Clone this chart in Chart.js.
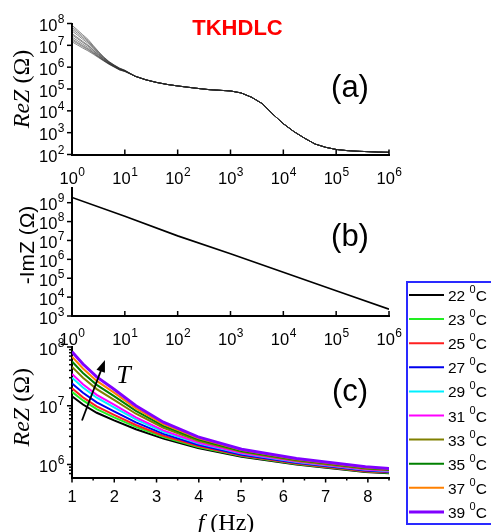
<!DOCTYPE html>
<html>
<head>
<meta charset="utf-8">
<script src="https://cdn.jsdelivr.net/npm/chart.js@4.4.0/dist/chart.umd.min.js"></script>
<style>
  html, body { margin: 0; padding: 0; background: #fff; }
  #wrap { position: relative; width: 491px; height: 532px; overflow: hidden; }
  #wrap canvas { position: absolute; left: 0; top: 0; }
</style>
</head>
<body>
<div id="wrap">
  <canvas id="chartA" width="491" height="532"></canvas>
  <canvas id="chartB" width="491" height="532"></canvas>
  <canvas id="chartC" width="491" height="532"></canvas>
</div>
<script>
// temperatures and their colours (legend order)
const temps = ['22', '23', '25', '27', '29', '31', '33', '35', '37', '39']
const tempColors = ['#000000', '#22ee22', '#ff2020', '#0000ee', '#00f0ff', '#ff00ff', '#808000', '#008000', '#ff8000', '#8000ff']

// low frequency part, where the curves split by temperature
const freqLow = [1, 1.259, 1.585, 1.995, 2.512, 3.162, 3.981, 5.012, 6.310, 7.943, 10]
const reZ_22C = [1.45e7, 1.05e7, 7.59e6, 5.62e6, 3.98e6, 2.75e6, 1.91e6, 1.35e6, 1.00e6, 7.41e5, 6.31e5]
const reZ_23C = [1.72e7, 1.23e7, 8.73e6, 6.35e6, 4.37e6, 2.94e6, 1.99e6, 1.39e6, 1.02e6, 7.57e5, 6.40e5]
const reZ_25C = [1.98e7, 1.39e7, 9.77e6, 7.00e6, 4.70e6, 3.09e6, 2.06e6, 1.42e6, 1.04e6, 7.69e5, 6.47e5]
const reZ_27C = [2.40e7, 1.66e7, 1.14e7, 8.02e6, 5.20e6, 3.32e6, 2.16e6, 1.47e6, 1.07e6, 7.87e5, 6.56e5]
const reZ_29C = [3.01e7, 2.04e7, 1.37e7, 9.40e6, 5.86e6, 3.61e6, 2.29e6, 1.53e6, 1.10e6, 8.09e5, 6.68e5]
const reZ_31C = [3.47e7, 2.32e7, 1.53e7, 1.04e7, 6.31e6, 3.80e6, 2.37e6, 1.57e6, 1.12e6, 8.22e5, 6.76e5]
const reZ_33C = [4.59e7, 2.99e7, 1.92e7, 1.26e7, 7.31e6, 4.22e6, 2.54e6, 1.64e6, 1.16e6, 8.49e5, 6.92e5]
const reZ_35C = [5.66e7, 3.61e7, 2.27e7, 1.46e7, 8.17e6, 4.55e6, 2.68e6, 1.70e6, 1.20e6, 8.71e5, 7.03e5]
const reZ_37C = [6.85e7, 4.31e7, 2.65e7, 1.67e7, 9.04e6, 4.89e6, 2.81e6, 1.76e6, 1.23e6, 8.91e5, 7.13e5]
const reZ_39C = [8.32e7, 5.13e7, 3.09e7, 1.91e7, 1.00e7, 5.25e6, 2.95e6, 1.82e6, 1.26e6, 9.12e5, 7.24e5]
const reZLow = [reZ_22C, reZ_23C, reZ_25C, reZ_27C, reZ_29C, reZ_31C, reZ_33C, reZ_35C, reZ_37C, reZ_39C]

// high frequency part, all temperatures on top of each other
const freqTail = [15.85, 25.12, 39.81, 63.10, 100, 158.5, 251.2, 398.1, 631.0, 1000, 1585, 2512, 3981, 6310,
    1e4, 1.585e4, 2.512e4, 3.981e4, 6.310e4, 1e5, 1.585e5, 2.512e5, 3.981e5, 6.310e5, 1e6]
const reZTail = [3.80e5, 2.63e5, 2.00e5, 1.62e5, 1.38e5, 1.20e5, 1.05e5, 9.33e4, 8.71e4, 8.13e4, 6.61e4, 4.17e4, 2.14e4, 7.08e3,
    2.57e3, 1.12e3, 562, 302, 214, 170, 151, 141, 135, 129, 126]

// -ImZ
const freqIm = [1, 10, 100, 1000, 1e4, 1e5, 1e6]
const negImZ = [1.9e9, 1.9e8, 1.75e7, 2.0e6, 2.1e5, 2.2e4, 2.3e3]

// ticks
const decadeTicksX = [1, 10, 100, 1e3, 1e4, 1e5, 1e6]
const decadeTicksA = [1e2, 1e3, 1e4, 1e5, 1e6, 1e7, 1e8]
const decadeTicksB = [1e3, 1e4, 1e5, 1e6, 1e7, 1e8, 1e9]
const decadeTicksC = [1e6, 1e7, 1e8]
const minorTicksC = [7e5, 8e5, 9e5, 2e6, 3e6, 4e6, 5e6, 6e6, 7e6, 8e6, 9e6, 2e7, 3e7, 4e7, 5e7, 6e7, 7e7, 8e7, 9e7]
const linTicksC = [1, 2, 3, 4, 5, 6, 7, 8]
const linMinorC = [1.5, 2.5, 3.5, 4.5, 5.5, 6.5, 7.5, 8.5]

const sans = '"Liberation Sans", Arial, sans-serif'
const serif = '"Liberation Serif", "Times New Roman", serif'

function toPoints(xs, ys) {
    return xs.map((x, i) => ({ x: x, y: ys[i] }))
}

// draws "10" with a raised exponent
function drawPow(ctx, exp, x, y, align) {
    ctx.font = '16.5px ' + sans
    const wb = ctx.measureText('10').width
    ctx.font = '12px ' + sans
    const we = ctx.measureText(String(exp)).width
    const x0 = align === 'right' ? x - wb - we : x - (wb + we) / 2
    ctx.textAlign = 'left'
    ctx.textBaseline = 'alphabetic'
    ctx.font = '16.5px ' + sans
    ctx.fillText('10', x0, y)
    ctx.font = '12px ' + sans
    ctx.fillText(String(exp), x0 + wb + 0.5, y - 8)
}

// rotated axis title made of pieces with their own fonts
function drawVertTitle(ctx, parts, cx, cy) {
    let total = 0
    parts.forEach(p => { ctx.font = p.font; p.w = ctx.measureText(p.text).width; total += p.w })
    ctx.save()
    ctx.translate(cx, cy)
    ctx.rotate(-Math.PI / 2)
    ctx.textAlign = 'left'
    ctx.textBaseline = 'alphabetic'
    let x = -total / 2
    parts.forEach(p => { ctx.font = p.font; ctx.fillText(p.text, x, 0); x += p.w })
    ctx.restore()
}

/**
 * Ticks, tick labels and the free texts of every panel.
 */
const decorPlugin = {
    id: 'decor',
    afterDraw(chart, args, o) {
        const ctx = chart.ctx
        const a = chart.chartArea
        const xs = chart.scales.x, ys = chart.scales.y
        ctx.save()
        ctx.strokeStyle = '#000'
        ctx.fillStyle = '#000'
        ctx.lineWidth = 1.5
        const seg = (x1, y1, x2, y2) => { ctx.beginPath(); ctx.moveTo(x1, y1); ctx.lineTo(x2, y2); ctx.stroke() }

        // x ticks (dir -1 = inside, 1 = outside)
        o.xMajor.forEach(v => { const p = xs.getPixelForValue(v); seg(p, a.bottom, p, a.bottom + o.xDir * 5) })
        ;(o.xMinor || []).forEach(v => { const p = xs.getPixelForValue(v); seg(p, a.bottom, p, a.bottom + o.xDir * 3) })
        o.yMajor.forEach(v => { const p = ys.getPixelForValue(v); seg(a.left - 5, p, a.left, p) })
        ;(o.yMinor || []).forEach(v => { const p = ys.getPixelForValue(v); seg(a.left - 3, p, a.left, p) })

        // tick labels
        o.xMajor.forEach(v => {
            const p = xs.getPixelForValue(v)
            if (o.xPow) {
                drawPow(ctx, Math.round(Math.log10(v)), p, a.bottom + 29, 'center')
            } else {
                ctx.font = '16.5px ' + sans
                ctx.textAlign = 'center'
                ctx.textBaseline = 'alphabetic'
                ctx.fillText(String(v), p, a.bottom + 24.5)
            }
        })
        o.yMajor.forEach(v => {
            drawPow(ctx, Math.round(Math.log10(v)), a.left - 8, ys.getPixelForValue(v) + 7.5, 'right')
        })

        if (o.yTitle) drawVertTitle(ctx, o.yTitle, o.yTitleX, (a.top + a.bottom) / 2 + o.yTitleDy)

        // panel letter
        ctx.font = '31px ' + sans
        ctx.textAlign = 'center'
        ctx.textBaseline = 'alphabetic'
        ctx.fillText(o.letter, a.right - 39, a.top + o.letterDy)

        if (o.extra) o.extra(chart, ctx, a, xs, ys)
        ctx.restore()
    }
}

function axisScales(xOpts, yOpts, yWidth) {
    const common = {
        ticks: { display: false },
        grid: { display: false },
        border: { display: true, color: '#000', width: 2 }
    }
    return {
        x: Object.assign({ position: 'bottom', afterFit: s => { s.height = 20 } }, common, xOpts),
        y: Object.assign({ position: 'left', afterFit: s => { s.width = yWidth } }, common, yOpts)
    }
}

function baseOptions(padding, scales, decor) {
    return {
        responsive: false,
        devicePixelRatio: 1,
        animation: false,
        events: [],
        layout: { autoPadding: false, padding: padding },
        scales: scales,
        plugins: { legend: { display: false }, tooltip: { enabled: false }, decor: decor }
    }
}

const reZTitle = [
    { text: 'ReZ', font: 'italic 24px ' + serif },
    { text: ' (Ω)', font: '24px ' + serif }
]

// ---------- panel (a) ----------
const datasetsA = reZLow.map((vals, i) => ({
    label: temps[i] + ' °C',
    data: toPoints(freqLow.concat(freqTail), vals.concat(reZTail)),
    borderColor: 'rgba(40,40,40,0.55)',
    borderWidth: 1,
    pointRadius: 0,
    fill: false
}))

new Chart(document.querySelector('#chartA'), {
    type: 'line',
    data: { datasets: datasetsA },
    options: baseOptions(
        { left: 0, right: 102, top: 23.5, bottom: 357.5 },
        axisScales({ type: 'logarithmic', min: 1, max: 1e6 }, { type: 'logarithmic', min: 1e2, max: 1e8 }, 72),
        {
            xMajor: decadeTicksX, xDir: -1, xPow: true,
            yMajor: decadeTicksA,
            yTitle: reZTitle, yTitleX: 28.5, yTitleDy: 0,
            letter: '(a)', letterDy: 73,
            extra: (chart, ctx) => {
                ctx.fillStyle = '#ff0000'
                ctx.font = 'bold 22px ' + sans
                ctx.textAlign = 'center'
                ctx.fillText('TKHDLC', 237.5, 35)
            }
        }
    ),
    plugins: [decorPlugin]
})

// ---------- panel (b) ----------
new Chart(document.querySelector('#chartB'), {
    type: 'line',
    data: {
        datasets: [{
            label: '-ImZ',
            data: toPoints(freqIm, negImZ),
            borderColor: '#000',
            borderWidth: 1.6,
            pointRadius: 0,
            fill: false
        }]
    },
    options: baseOptions(
        { left: 0, right: 102, top: 188, bottom: 196 },
        axisScales({ type: 'logarithmic', min: 1, max: 1e6 }, { type: 'logarithmic', min: 1e3, max: 6e9 }, 72),
        {
            xMajor: decadeTicksX, xDir: -1, xPow: true,
            yMajor: decadeTicksB,
            yTitle: [{ text: '-ImZ (Ω)', font: '21px ' + sans }], yTitleX: 34, yTitleDy: -7,
            letter: '(b)', letterDy: 57.5
        }
    ),
    plugins: [decorPlugin]
})

// ---------- panel (c) ----------
const datasetsC = reZLow.map((vals, i) => ({
    label: temps[i] + ' °C',
    data: toPoints(freqLow, vals),
    borderColor: tempColors[i],
    borderWidth: i === temps.length - 1 ? 3 : 2,
    pointRadius: 0,
    fill: false,
    order: temps.length - i
}))

new Chart(document.querySelector('#chartC'), {
    type: 'line',
    data: { datasets: datasetsC },
    options: baseOptions(
        { left: 0, right: 102, top: 347, bottom: 34.5 },
        axisScales({ type: 'linear', min: 1, max: 8.5 }, { type: 'logarithmic', min: 6e5, max: 1e8 }, 72),
        {
            xMajor: linTicksC, xMinor: linMinorC, xDir: 1, xPow: false,
            yMajor: decadeTicksC, yMinor: minorTicksC,
            yTitle: reZTitle, yTitleX: 28.5, yTitleDy: -5,
            letter: '(c)', letterDy: 53.5,
            extra: (chart, ctx, a, xs, ys) => {
                // x axis title
                ctx.fillStyle = '#000'
                ctx.textAlign = 'left'
                ctx.font = 'italic 24px ' + serif
                const wf = ctx.measureText('f').width
                ctx.font = '24px ' + serif
                const wh = ctx.measureText(' (Hz)').width
                const x0 = 226 - (wf + wh) / 2
                ctx.font = 'italic 24px ' + serif
                ctx.fillText('f', x0, 529.5)
                ctx.font = '24px ' + serif
                ctx.fillText(' (Hz)', x0 + wf, 529.5)

                // temperature arrow
                const x1 = xs.getPixelForValue(1.236), y1 = ys.getPixelForValue(5.6e6)
                const x2 = xs.getPixelForValue(1.78), y2 = ys.getPixelForValue(6.0e7)
                const ang = Math.atan2(y2 - y1, x2 - x1)
                ctx.lineWidth = 1.8
                ctx.beginPath()
                ctx.moveTo(x1, y1)
                ctx.lineTo(x2 - 9 * Math.cos(ang), y2 - 9 * Math.sin(ang))
                ctx.stroke()
                ctx.beginPath()
                ctx.moveTo(x2, y2)
                ctx.lineTo(x2 - 12 * Math.cos(ang) + 4.5 * Math.sin(ang), y2 - 12 * Math.sin(ang) - 4.5 * Math.cos(ang))
                ctx.lineTo(x2 - 12 * Math.cos(ang) - 4.5 * Math.sin(ang), y2 - 12 * Math.sin(ang) + 4.5 * Math.cos(ang))
                ctx.closePath()
                ctx.fill()
                ctx.font = 'italic 26px ' + serif
                ctx.textAlign = 'center'
                ctx.textBaseline = 'middle'
                ctx.fillText('T', xs.getPixelForValue(2.22), ys.getPixelForValue(3.2e7))

                // legend box
                ctx.strokeStyle = '#2a2aff'
                ctx.lineWidth = 2
                ctx.strokeRect(407, 282, 90, 242)
                ctx.textBaseline = 'alphabetic'
                ctx.textAlign = 'left'
                temps.forEach((t, i) => {
                    const y = 295 + i * 24.1
                    ctx.strokeStyle = tempColors[i]
                    ctx.lineWidth = i === temps.length - 1 ? 3 : 2
                    ctx.beginPath(); ctx.moveTo(409, y); ctx.lineTo(444, y); ctx.stroke()
                    ctx.fillStyle = '#000'
                    ctx.font = '15.5px ' + sans
                    const w1 = ctx.measureText(t + ' ').width
                    ctx.fillText(t + ' ', 448, y + 6)
                    ctx.font = '11px ' + sans
                    const w2 = ctx.measureText('0').width
                    ctx.fillText('0', 448 + w1, y - 2)
                    ctx.font = '15.5px ' + sans
                    ctx.fillText('C', 448 + w1 + w2, y + 6)
                })
            }
        }
    ),
    plugins: [decorPlugin]
})
</script>
</body>
</html>
